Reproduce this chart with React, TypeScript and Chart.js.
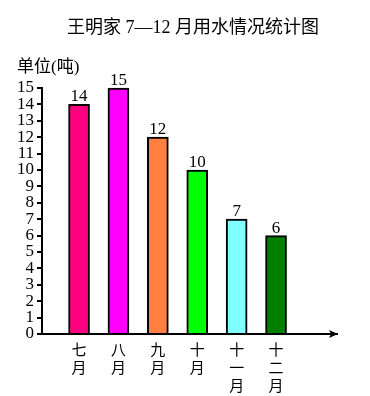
import React, { useEffect, useRef } from 'react';
import { Chart, registerables } from 'chart.js';

Chart.register(...registerables);

const TITLE = '王明家 7—12 月用水情况统计图';
const UNIT = '单位(吨)';
const months: string[][] = [
  ['七', '月'],
  ['八', '月'],
  ['九', '月'],
  ['十', '月'],
  ['十', '一', '月'],
  ['十', '二', '月'],
];
const usage = [14, 15, 12, 10, 7, 6];
const barColors = ['#FF0080', '#FF00FF', '#FF8040', '#00FF00', '#80FFFF', '#008000'];
const yMax = 15;

const decor = {
  id: 'decor',
  afterDraw(chart: any) {
    const { ctx, chartArea } = chart;
    ctx.save();
    // arrow head on x axis
    const y0 = chart.scales.y.getPixelForValue(0);
    const xr = chartArea.right;
    ctx.fillStyle = '#000';
    ctx.beginPath();
    ctx.moveTo(xr + 1, y0);
    ctx.lineTo(xr - 8, y0 - 4);
    ctx.lineTo(xr - 6, y0);
    ctx.lineTo(xr - 8, y0 + 4);
    ctx.closePath();
    ctx.fill();

    // value labels
    const meta = chart.getDatasetMeta(0);
    ctx.font = '17px "Liberation Serif"';
    ctx.textAlign = 'center';
    ctx.textBaseline = 'alphabetic';
    meta.data.forEach((bar: any, i: number) => {
      ctx.fillText(String(usage[i]), bar.x, bar.y - 3);
    });

    // title
    ctx.font = '18px "Liberation Serif", "Noto Sans CJK SC"';
    ctx.textAlign = 'center';
    ctx.textBaseline = 'middle';
    ctx.fillText(TITLE, 193, 28);

    // unit
    ctx.font = '17px "Liberation Serif", "Noto Sans CJK SC"';
    ctx.textAlign = 'left';
    ctx.fillText(UNIT, 17, 68);
    ctx.restore();
  },
};

export default function App() {
  const ref = useRef<HTMLCanvasElement>(null);
  useEffect(() => {
    if (!ref.current) return;
    const chart = new Chart(ref.current, {
      type: 'bar',
      data: {
        datasets: [
          {
            data: usage.map((v, i) => ({ x: i + 1, y: v })) as any,
            backgroundColor: barColors,
            borderColor: '#000',
            borderWidth: 2,
            barThickness: 21,
            clip: false as any,
          },
        ],
      },
      options: {
        responsive: false,
        animation: false,
        events: [],
        layout: { padding: { left: 0, top: 88, right: 33, bottom: 0 } },
        plugins: {
          legend: { display: false },
          tooltip: { enabled: false },
          title: { display: false },
        },
        scales: {
          x: {
            type: 'linear',
            offset: false,
            min: 0.06,
            max: 7.547,
            afterFit: (s: any) => {
              s.height = 62;
            },
            afterBuildTicks: (s: any) => {
              s.ticks = months.map((_, i) => ({ value: i + 1 }));
            },
            grid: { display: false },
            border: { display: true, color: '#000', width: 2 },
            ticks: {
              autoSkip: false,
              maxRotation: 0,
              padding: -2,
              color: '#000',
              font: { family: '"Noto Sans CJK SC"', size: 15, lineHeight: '18px' } as any,
              callback: (v: any) => months[Math.round(Number(v)) - 1] || '',
            },
          },
          y: {
            min: 0,
            max: yMax,
            afterFit: (s: any) => {
              s.width = 42;
            },
            grid: {
              display: true,
              drawOnChartArea: false,
              drawTicks: true,
              tickLength: 5,
              tickColor: '#000',
              tickWidth: 2,
              color: '#000',
              lineWidth: 2,
            } as any,
            border: { display: true, color: '#000', width: 2 },
            ticks: {
              stepSize: 1,
              autoSkip: false,
              padding: 3,
              color: '#000',
              font: { family: '"Liberation Serif"', size: 17, lineHeight: 1 },
            },
          },
        },
      },
      plugins: [decor],
    });
    return () => chart.destroy();
  }, []);
  return (
    <div style={{ position: 'absolute', left: 0, top: 0, width: 370, height: 396, background: '#fff' }}>
      <canvas ref={ref} width={370} height={396} style={{ display: 'block', width: 370, height: 396 }} />
    </div>
  );
}
